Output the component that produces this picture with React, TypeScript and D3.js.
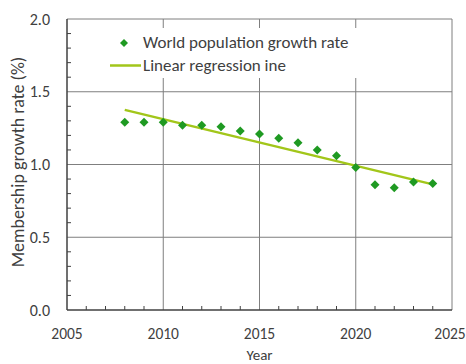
import React from "react";
import * as d3 from "d3";

const years = [2008, 2009, 2010, 2011, 2012, 2013, 2014, 2015, 2016, 2017, 2018, 2019, 2020, 2021, 2022, 2023, 2024];
const growthRate = [1.29, 1.29, 1.29, 1.27, 1.27, 1.26, 1.23, 1.21, 1.18, 1.15, 1.10, 1.06, 0.98, 0.86, 0.84, 0.88, 0.87];
const xTicks = [2005, 2010, 2015, 2020, 2025];
const yTicks = [0, 0.5, 1.0, 1.5, 2.0];
const seriesLabels = ["World population growth rate", "Linear regression ine"];

const W = 466, H = 364;
const left = 67, right = 452, top = 19, bottom = 310;
const font = "Carlito, Calibri, Lato, 'Open Sans', sans-serif";
const textColor = "#404040";
const markerColor = "#1f9a22";
const lineColor = "#a2c61a";

// least-squares fit of the growth-rate series
function regression(xs: number[], ys: number[]) {
  const mx = d3.mean(xs)!, my = d3.mean(ys)!;
  let sxy = 0, sxx = 0;
  xs.forEach((x, i) => { sxy += (x - mx) * (ys[i] - my); sxx += (x - mx) ** 2; });
  const slope = sxy / sxx;
  return (x: number) => my + slope * (x - mx);
}

export default function App() {
  const x = d3.scaleLinear().domain([2005, 2025]).range([left, right]);
  const y = d3.scaleLinear().domain([0, 2]).range([bottom, top]);
  const fit = regression(years, growthRate);
  const x0 = years[0], x1 = years[years.length - 1];
  const minorX = d3.range(2005, 2026, 1).filter((v) => v % 5 !== 0);
  const minorY = d3.range(0, 21, 1).map((v) => v / 10).filter((v) => Math.round(v * 10) % 5 !== 0);
  const diamond = (cx: number, cy: number, r: number) =>
    `M${cx},${cy - r}L${cx + r},${cy}L${cx},${cy + r}L${cx - r},${cy}Z`;

  return (
    <svg width={W} height={H} style={{ position: "absolute", left: 0, top: 0, background: "#fff" }}>
      {/* grid */}
      {yTicks.filter((v) => v > 0).map((v) => (
        <line key={"gy" + v} x1={left} x2={right} y1={y(v)} y2={y(v)} stroke="#7f7f7f" strokeWidth={1} />
      ))}
      {xTicks.filter((v) => v > 2005).map((v) => (
        <line key={"gx" + v} x1={x(v)} x2={x(v)} y1={top} y2={bottom} stroke="#7f7f7f" strokeWidth={1} />
      ))}
      {/* axes */}
      <line x1={left} x2={left} y1={top} y2={bottom} stroke="#404040" strokeWidth={1.5} />
      <line x1={left} x2={right} y1={bottom} y2={bottom} stroke="#404040" strokeWidth={1.5} />
      {minorY.map((v) => (
        <line key={"my" + v} x1={left} x2={left + 4} y1={y(v)} y2={y(v)} stroke="#404040" strokeWidth={1} />
      ))}
      {minorX.map((v) => (
        <line key={"mx" + v} x1={x(v)} x2={x(v)} y1={bottom} y2={bottom - 4} stroke="#404040" strokeWidth={1} />
      ))}
      {/* tick labels */}
      {yTicks.map((v) => (
        <text key={"ly" + v} x={50} y={y(v) + 5.5} textAnchor="end" fontFamily={font} fontSize={16} fill={textColor}>
          {v.toFixed(1)}
        </text>
      ))}
      {xTicks.map((v) => (
        <text key={"lx" + v} x={Math.min(x(v), W - 16)} y={339} textAnchor="middle" fontFamily={font} fontSize={15.5} fill={textColor}>
          {v}
        </text>
      ))}
      <text x={x(2015)} y={360} textAnchor="middle" fontFamily={font} fontSize={15} fill={textColor}>Year</text>
      <text transform={`translate(24,162) rotate(-90)`} textAnchor="middle" fontFamily={font} fontSize={18} fill={textColor}>
        Membership growth rate (%)
      </text>
      {/* legend */}
      <rect x={105} y={28} width={262} height={50} fill="#fff" />
      <path d={diamond(124, 43, 4)} fill={markerColor} />
      <text x={143} y={48} fontFamily={font} fontSize={17} fill={textColor}>{seriesLabels[0]}</text>
      <line x1={110} x2={141} y1={65.5} y2={65.5} stroke={lineColor} strokeWidth={2.5} />
      <text x={143} y={71} fontFamily={font} fontSize={17} fill={textColor}>{seriesLabels[1]}</text>
      {/* data */}
      <line x1={x(x0)} x2={x(x1)} y1={y(fit(x0))} y2={y(fit(x1))} stroke={lineColor} strokeWidth={2.5} />
      {years.map((yr, i) => (
        <path key={yr} d={diamond(x(yr), y(growthRate[i]), 4.5)} fill={markerColor} />
      ))}
    </svg>
  );
}
